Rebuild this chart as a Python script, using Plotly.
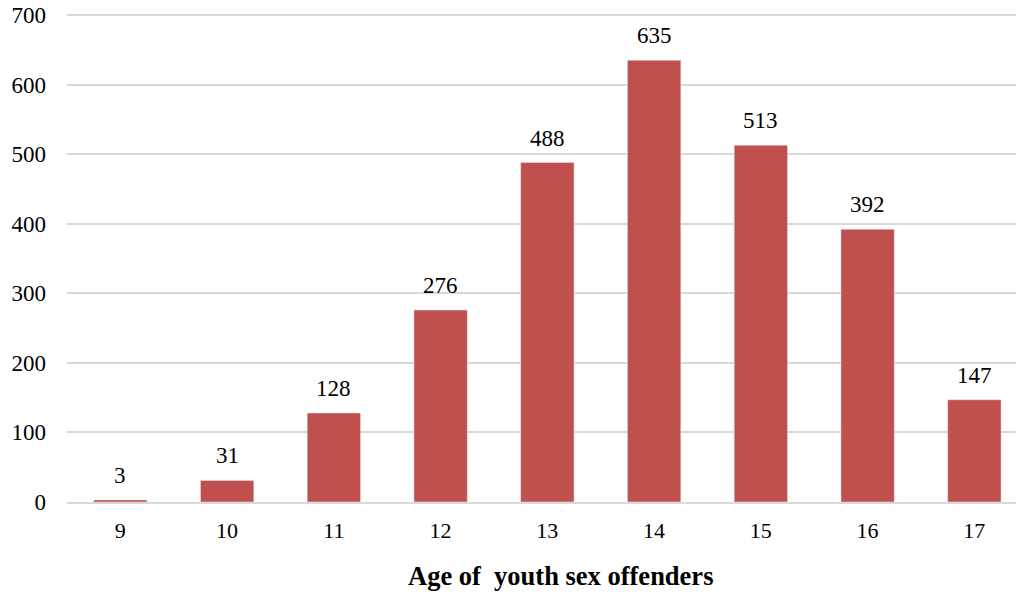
import plotly.graph_objects as go

ages = ["9", "10", "11", "12", "13", "14", "15", "16", "17"]
counts = [3, 31, 128, 276, 488, 635, 513, 392, 147]
y_ticks = [0, 100, 200, 300, 400, 500, 600, 700]
x_title = "<b>Age of&nbsp; youth sex offenders</b>"

FONT = "Liberation Serif, Times New Roman, serif"

fig = go.Figure(go.Bar(
    x=ages, y=counts, marker_color="#C0504D", cliponaxis=False,
))
for i, c in enumerate(counts):
    fig.add_annotation(x=i, y=c, text=str(c), showarrow=False, yanchor="bottom",
                       yshift=10, font=dict(size=23, color="black", family=FONT))

fig.add_annotation(x=0.5195, y=0, xref="paper", yref="paper", text=x_title,
                   showarrow=False, xanchor="center", yanchor="middle", yshift=-74,
                   font=dict(size=26.5, color="black", family=FONT))

fig.update_layout(
    width=1018, height=592,
    margin=dict(l=67, r=2, t=14, b=90, autoexpand=False),
    paper_bgcolor="white", plot_bgcolor="white",
    bargap=0.5, showlegend=False,
    font=dict(family=FONT, size=22, color="black"),
    xaxis=dict(
        type="category", range=[-0.5, 8.39], automargin=False,
        showline=True, linecolor="#d9d9d9", linewidth=2,
        ticks="", showgrid=False, ticklabelstandoff=8,
        tickfont=dict(size=22),
    ),
    yaxis=dict(
        range=[0, 701.5], tickvals=y_ticks, showgrid=True, gridcolor="#d9d9d9",
        gridwidth=1.5, zeroline=False, ticks="", ticklabelstandoff=20, automargin=False,
        ticklabeloverflow="allow", tickfont=dict(size=23),
    ),
)
fig.write_html("out.html", config={"displayModeBar": False},
               post_script="document.body.style.margin='0';")
